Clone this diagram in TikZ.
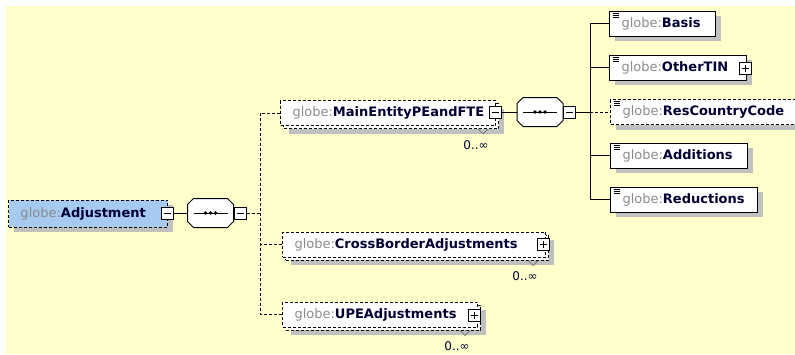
\documentclass[tikz,border=0pt]{standalone}
\usepackage{fontspec}
\setmainfont{DejaVu Sans}
\usepackage{xcolor}
\definecolor{bgyellow}{HTML}{FFFFCC}
\definecolor{shadowgray}{HTML}{C0C0C0}
\definecolor{rootblue}{HTML}{A6CAF0}
\definecolor{prefixgray}{HTML}{8C8C8C}
\definecolor{namenavy}{HTML}{000033}
\usepackage{tikz}
\usetikzlibrary{positioning, shadows}

% element caption: fixed-width box, grey prefix, bold name
\newcommand{\elcap}[2]{\makebox[#1pt][l]{\hspace{12pt}\textcolor{prefixgray}{globe:}\textcolor{namenavy}{\bfseries #2}}}

% octagon of a sequence compositor, drawn round an (invisible) node
\newcommand{\octpath}[1]{([xshift=6pt]#1.north west) -- ([xshift=-6pt]#1.north east) -- ([yshift=-6pt]#1.north east)
    -- ([yshift=6pt]#1.south east) -- ([xshift=-6pt]#1.south east) -- ([xshift=6pt]#1.south west)
    -- ([yshift=6pt]#1.south west) -- ([yshift=-6pt]#1.north west) -- cycle}
\newcommand{\seqglyph}[1]{%
    \fill[shadowgray, shift={(5,5)}] \octpath{#1};
    \draw[fill=white] \octpath{#1};
    \draw ([xshift=6pt]#1.west) -- ([xshift=-6pt]#1.east);
    \foreach \dx in {-5,0,5}
        \fill ([xshift=\dx pt]#1.center) circle (1.9pt);
}

\begin{document}
\begin{tikzpicture}[
        x=1pt, y=-1pt, line width=1pt,
        font=\fontsize{13}{15}\selectfont,
        opt/.style={dash pattern=on 3pt off 2pt},
        elem/.style={draw, fill=white, anchor=west, inner sep=0pt, minimum height=25pt},
        single/.style={elem, general shadow={shadow xshift=5pt, shadow yshift=-5pt, draw=none, fill=shadowgray}},
        multi/.style={elem, opt, general shadow={shadow xshift=8pt, shadow yshift=-8pt, draw=none, fill=shadowgray},
            general shadow={shadow xshift=3pt, shadow yshift=-3pt, draw, fill=white, dash pattern=on 3pt off 2pt}},
        simple/.style={single, path picture={
            \foreach \dy in {2,4,6}
                \draw[solid, line width=0.8pt] ([xshift=3pt, yshift=-\dy pt]path picture bounding box.north west) -- ++(6,0);}},
        minusbox/.style={draw, solid, fill=white, minimum size=12pt, inner sep=0pt,
            path picture={\draw[line width=0.8pt] ([xshift=2.5pt]path picture bounding box.west) -- ([xshift=-2.5pt]path picture bounding box.east);}},
        plusbox/.style={draw, solid, fill=white, minimum size=12pt, inner sep=0pt,
            path picture={\draw[line width=0.8pt] ([xshift=2.5pt]path picture bounding box.west) -- ([xshift=-2.5pt]path picture bounding box.east)
                ([yshift=-2.5pt]path picture bounding box.north) -- ([yshift=2.5pt]path picture bounding box.south);}},
        seqbox/.style={minimum width=45pt, minimum height=28pt, inner sep=0pt},
        mult/.style={font=\fontsize{12}{14}\selectfont, text=namenavy, inner sep=0pt},
        notch/.style={draw=black!60, line width=0.7pt},
        link/.style={draw=black},
        dlink/.style={link, opt}
    ]
        % background sheet
        \useasboundingbox (0,0) rectangle (795,354);
        \clip (0,0) rectangle (795,354);
        \fill[bgyellow] (6,6) rectangle (795,354);

        % root element and its sequence
        \node[single, opt, fill=rootblue, minimum height=27pt] (adj) at (8,213.5) {\elcap{159}{Adjustment}};
        \node[minusbox] (adjm) at (167,213) {};
        \node[seqbox] (seqa) at (210.5,213) {};
        \seqglyph{seqa}
        \node[minusbox] (seqam) at (240,213) {};
        \coordinate (busa) at (260,213);

        % repeated children
        \node[multi] (main) at (280,113) {\elcap{215}{MainEntityPEandFTE}};
        \node[minusbox] (mainm) at (495,112) {};
        \node[multi] (cross) at (282,244.5) {\elcap{263}{CrossBorderAdjustments}};
        \node[plusbox] (crossp) at (543.5,244.5) {};
        \node[multi] (upe) at (282,314.5) {\elcap{195}{UPEAdjustments}};
        \node[plusbox] (upep) at (474,315) {};

        \node[mult] (mainmult) at ([shift={(-20,19)}]main.south east) {0..∞};
        \node[mult] (crossmult) at ([shift={(-21,19)}]cross.south east) {0..∞};
        \node[mult] (upemult) at ([shift={(-21,19)}]upe.south east) {0..∞};
        \draw[notch] ([shift={(-18,3)}]main.south east) -- ++(5,5) -- ++(5,-5);
        \draw[notch] ([shift={(-18,3)}]cross.south east) -- ++(5,5) -- ++(5,-5);
        \draw[notch] ([shift={(-18,3)}]upe.south east) -- ++(5,5) -- ++(5,-5);

        % inner sequence
        \node[seqbox] (seqb) at (540,112) {};
        \seqglyph{seqb}
        \node[minusbox] (seqbm) at (569.5,112) {};
        \coordinate (busb) at (590,112);

        \node[simple] (basis) at (609,23.5) {\elcap{106}{Basis}};
        \node[simple] (othertin) at (609,67.5) {\elcap{137}{OtherTIN}};
        \node[plusbox] (othertinp) at (745,68) {};
        \node[simple, opt] (rcc) at (610,112) {\elcap{190}{ResCountryCode}};
        \node[simple] (additions) at (610,155.5) {\elcap{137}{Additions}};
        \node[simple] (reductions) at (610,199.5) {\elcap{147}{Reductions}};

        % connectors
        \draw[link] (adjm.east) -- (seqa.west);
        \draw[dlink] (seqam.east) -- (busa);
        \draw[dlink] (main.west) -| (busa) |- (upe.west);
        \draw[dlink] (busa) |- (cross.west);
        \draw[link] (mainm.east) -- (seqb.west);
        \draw[link] (seqbm.east) -- (busb);
        \draw[link] (basis.west) -| (busb) |- (reductions.west);
        \draw[link] (busb) |- (othertin.west);
        \draw[link] (busb) |- (additions.west);
        \draw[dlink] (busb) -- (rcc.west);

    \end{tikzpicture}
\end{document}
